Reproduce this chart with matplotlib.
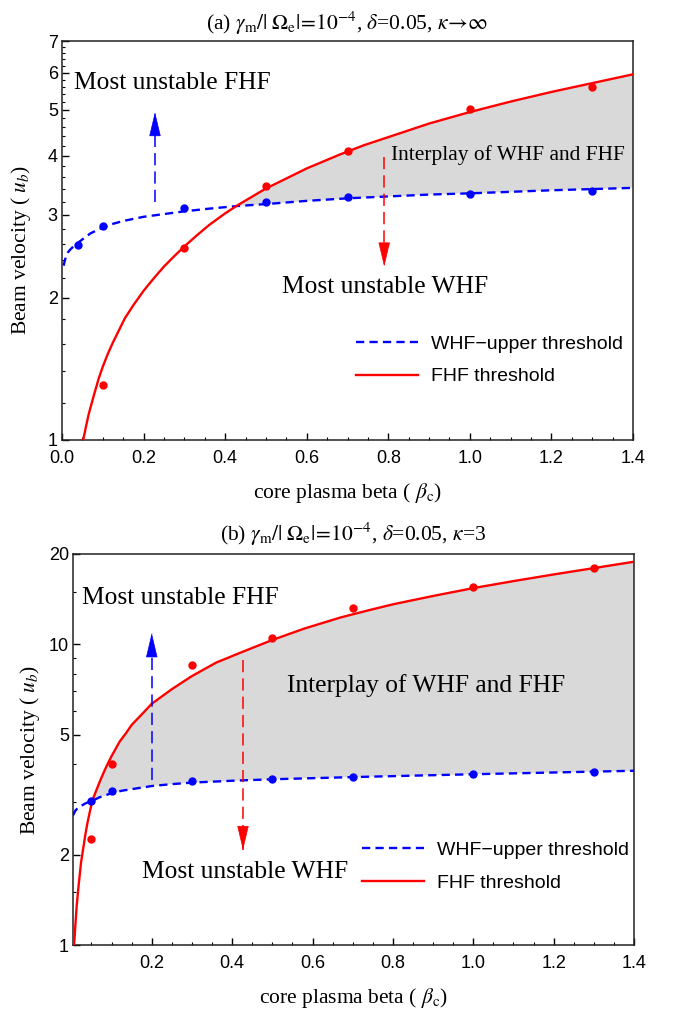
"""Beam-velocity thresholds of WHF and FHF versus core plasma beta."""

import numpy as np
import matplotlib
matplotlib.use("Agg")
import matplotlib.pyplot as plt
from matplotlib.ticker import NullFormatter

plt.rcParams['font.family'] = ['Liberation Serif', 'DejaVu Serif']
plt.rcParams['mathtext.fontset'] = 'stix'

# ---- panel (a): kappa -> infinity ----
a_whf_x = [0.004, 0.007, 0.01, 0.015, 0.02, 0.03, 0.04, 0.055, 0.07, 0.085, 0.1, 0.125, 0.15,
           0.2, 0.25, 0.3, 0.36, 0.43, 0.5, 0.6, 0.7, 0.8, 0.9, 1.0, 1.2, 1.4]
a_whf_y = [2.34, 2.40, 2.45, 2.50, 2.53, 2.58, 2.62, 2.68, 2.74, 2.78, 2.82, 2.87, 2.91,
           2.97, 3.01, 3.05, 3.09, 3.13, 3.16, 3.21, 3.25, 3.28, 3.31, 3.33, 3.38, 3.42]
a_fhf_x = [0.052, 0.058, 0.065, 0.072, 0.08, 0.09, 0.1, 0.112, 0.125, 0.14, 0.154, 0.175, 0.2,
           0.225, 0.25, 0.275, 0.3, 0.33, 0.36, 0.4, 0.43, 0.5, 0.55, 0.6, 0.68, 0.74, 0.8,
           0.9, 1.0, 1.1, 1.2, 1.3, 1.4]
a_fhf_y = [1.0, 1.06, 1.13, 1.19, 1.26, 1.35, 1.43, 1.52, 1.61, 1.71, 1.81, 1.93, 2.07,
           2.2, 2.33, 2.45, 2.57, 2.71, 2.85, 3.02, 3.14, 3.41, 3.58, 3.76, 4.02, 4.21, 4.38,
           4.68, 4.95, 5.21, 5.46, 5.70, 5.95]
a_whf_pts_x = [0.04, 0.1, 0.3, 0.5, 0.7, 1.0, 1.3]
a_whf_pts_y = [2.59, 2.84, 3.10, 3.20, 3.27, 3.32, 3.36]
a_fhf_pts_x = [0.1, 0.3, 0.5, 0.7, 1.0, 1.3]
a_fhf_pts_y = [1.31, 2.55, 3.45, 4.10, 5.02, 5.59]
a_cross_x = 0.43

# ---- panel (b): kappa = 3 ----
b_whf_x = [0.004, 0.007, 0.01, 0.015, 0.02, 0.035, 0.052, 0.07, 0.1, 0.125, 0.15, 0.2, 0.25,
           0.3, 0.4, 0.5, 0.6, 0.7, 0.85, 1.0, 1.2, 1.4]
b_whf_y = [2.7, 2.75, 2.8, 2.85, 2.88, 2.96, 3.02, 3.1, 3.2, 3.26, 3.3, 3.38, 3.43,
           3.47, 3.52, 3.56, 3.59, 3.62, 3.66, 3.7, 3.75, 3.8]
b_fhf_x = [0.0065, 0.008, 0.01, 0.013, 0.018, 0.024, 0.03, 0.035, 0.04, 0.046, 0.052, 0.06,
           0.07, 0.08, 0.088, 0.1, 0.12, 0.135, 0.15, 0.175, 0.2, 0.25, 0.3, 0.36, 0.43,
           0.5, 0.58, 0.67, 0.74, 0.8, 0.9, 1.0, 1.1, 1.2, 1.3, 1.4]
b_fhf_y = [1.0, 1.06, 1.17, 1.34, 1.58, 1.88, 2.12, 2.34, 2.55, 2.78, 3.02, 3.22,
           3.48, 3.74, 3.95, 4.25, 4.75, 5.05, 5.4, 5.85, 6.35, 7.1, 7.85, 8.7, 9.5,
           10.35, 11.3, 12.3, 13.0, 13.6, 14.5, 15.4, 16.25, 17.1, 17.95, 18.85]
b_whf_pts_x = [0.05, 0.1, 0.3, 0.5, 0.7, 1.0, 1.3]
b_whf_pts_y = [3.02, 3.25, 3.51, 3.58, 3.61, 3.71, 3.76]
b_fhf_pts_x = [0.05, 0.1, 0.3, 0.5, 0.7, 1.0, 1.3]
b_fhf_pts_y = [2.25, 3.99, 8.52, 10.5, 13.2, 15.5, 18.0]
b_cross_x = 0.052

x_ticks_a = [0.0, 0.2, 0.4, 0.6, 0.8, 1.0, 1.2, 1.4]
x_ticks_b = [0.2, 0.4, 0.6, 0.8, 1.0, 1.2, 1.4]
y_ticks_a = [1, 2, 3, 4, 5, 6, 7]
y_ticks_b = [1, 2, 5, 10, 20]
y_minor_b = [1.5, 3, 4, 6, 7, 8, 9, 15]

BLUE = '#0000ff'
RED = '#ff0000'
SANS = ['Liberation Sans', 'DejaVu Sans']
SERIF_BIG = 18.4


def shade(ax, xb, yb, xr, yr, xc):
    xb, yb, xr, yr = map(np.asarray, (xb, yb, xr, yr))
    mb = xb >= xc
    mr = xr >= xc
    px = np.r_[xr[mr], xb[mb][::-1]]
    py = np.r_[yr[mr], yb[mb][::-1]]
    ax.fill(px, py, color='#d9d9d9', lw=0, zorder=1)


def dashed_arrow(ax, x, y0, y1, color):
    # dashed shaft, then a solid head pinned to the tip
    ax.plot([x, x], [y0, y1], color=color, lw=1.1, ls=(0, (8, 4)), zorder=4)
    off = -16 if y1 > y0 else 16
    ax.annotate('', xy=(x, y1), xytext=(0, off), textcoords='offset points',
                arrowprops=dict(arrowstyle='-|>,head_length=1.6,head_width=0.38',
                                color=color, lw=0.5, shrinkA=0, shrinkB=0), zorder=5)


def style(ax, xlim, ylim, xt, yt, ymin_ticks):
    ax.set_yscale('log')
    ax.set_xlim(*xlim)
    ax.set_ylim(*ylim)
    ax.set_xticks(xt)
    ax.set_xticklabels([f'{v:.1f}' for v in xt], fontfamily=SANS, fontsize=13)
    ax.set_xticks(np.arange(0.05, 1.4, 0.05), minor=True)
    ax.set_yticks(yt)
    ax.set_yticklabels([str(v) for v in yt], fontfamily=SANS, fontsize=13)
    ax.set_yticks(ymin_ticks, minor=True)
    ax.yaxis.set_minor_formatter(NullFormatter())
    ax.tick_params(which='both', direction='in', top=False, right=False)
    ax.tick_params(which='major', length=5, width=1.0)
    ax.tick_params(which='minor', length=2.5, width=0.8)
    ax.tick_params(axis='x', which='major', pad=7)
    ax.tick_params(axis='y', which='major', pad=3)
    for s in ax.spines.values():
        s.set_linewidth(1.1)
        s.set_color('#222222')
    ax.set_xlabel(r'core plasma beta ( $\beta_{\rm c}$)', fontsize=15.5, labelpad=10)
    ax.set_ylabel(r'Beam velocity ( $u_b$)', fontsize=15.5)


def legend(ax):
    ax.legend(loc='center left', bbox_to_anchor=(0.515, 0.200), frameon=False,
              prop={'family': SANS, 'size': 14}, handlelength=3.2,
              handletextpad=0.65, labelspacing=0.78, borderpad=0, borderaxespad=0)


fig = plt.figure(figsize=(6.76, 10.11), dpi=100)

# panel (a)
ax1 = fig.add_axes([62 / 676, 571 / 1011, 571 / 676, 399 / 1011])
shade(ax1, a_whf_x, a_whf_y, a_fhf_x, a_fhf_y, a_cross_x)
ax1.plot(a_whf_x, a_whf_y, color=BLUE, lw=1.7, ls=(0, (3.5, 2.2)), zorder=3,
         label='WHF\u2212upper threshold')
ax1.plot(a_fhf_x, a_fhf_y, color=RED, lw=1.7, zorder=3, label='FHF threshold')
ax1.plot(a_whf_pts_x, a_whf_pts_y, 'o', color=BLUE, ms=5, zorder=4)
ax1.plot(a_fhf_pts_x, a_fhf_pts_y, 'o', color=RED, ms=5, zorder=4)
dashed_arrow(ax1, 0.228, 3.19, 4.95, BLUE)
dashed_arrow(ax1, 0.79, 3.97, 2.33, RED)
ax1.text(0.03, 5.7, 'Most unstable FHF', fontsize=SERIF_BIG, va='center', ha='left')
ax1.text(0.806, 4.01, 'Interplay of WHF and FHF', fontsize=15.4, va='center', ha='left')
ax1.text(0.793, 2.11, 'Most unstable WHF', fontsize=SERIF_BIG, va='center', ha='center')
style(ax1, (0, 1.4), (1, 7), x_ticks_a, y_ticks_a,
      [v for v in np.arange(1.2, 7.0, 0.2) if abs(v - round(v)) > 0.05])
ax1.yaxis.set_label_coords(-0.05, 0.476)
ax1.set_title(r'(a) $\gamma_{\rm m}/|\;\Omega_{\rm e}|\!=\!10^{-4}$, $\delta$=0.05, $\kappa\!\rightarrow\!\infty$',
              fontsize=15.5, pad=8)
legend(ax1)

# panel (b)
ax2 = fig.add_axes([73 / 676, 66 / 1011, 561 / 676, 391 / 1011])
shade(ax2, b_whf_x, b_whf_y, b_fhf_x, b_fhf_y, b_cross_x)
ax2.plot(b_whf_x, b_whf_y, color=BLUE, lw=1.7, ls=(0, (3.5, 2.2)), zorder=3,
         label='WHF\u2212upper threshold')
ax2.plot(b_fhf_x, b_fhf_y, color=RED, lw=1.7, zorder=3, label='FHF threshold')
ax2.plot(b_whf_pts_x, b_whf_pts_y, 'o', color=BLUE, ms=5, zorder=4)
ax2.plot(b_fhf_pts_x, b_fhf_pts_y, 'o', color=RED, ms=5, zorder=4)
dashed_arrow(ax2, 0.2, 3.55, 10.9, BLUE)
dashed_arrow(ax2, 0.427, 8.9, 2.07, RED)
ax2.text(0.026, 14.3, 'Most unstable FHF', fontsize=SERIF_BIG, va='center', ha='left')
ax2.text(0.536, 7.33, 'Interplay of WHF and FHF', fontsize=SERIF_BIG, va='center', ha='left')
ax2.text(0.432, 1.75, 'Most unstable WHF', fontsize=SERIF_BIG, va='center', ha='center')
style(ax2, (0.004, 1.4), (1, 20), x_ticks_b, y_ticks_b, y_minor_b)
ax2.yaxis.set_label_coords(-0.055, 0.499)
ax2.set_title(r'(b) $\gamma_{\rm m}/|\;\Omega_{\rm e}|\!=\!10^{-4}$, $\delta$=0.05, $\kappa$=3',
              fontsize=15.5, pad=9)
legend(ax2)

fig.savefig('out.png', dpi=100)
